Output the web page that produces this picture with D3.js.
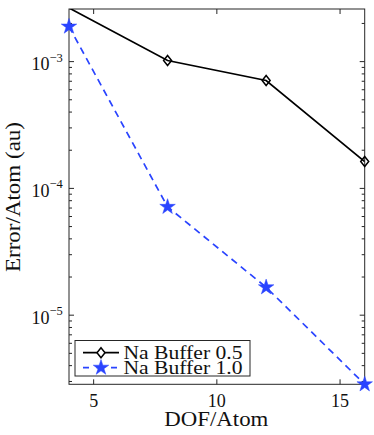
<!DOCTYPE html>
<html><head><meta charset="utf-8">
<script src="https://cdn.jsdelivr.net/npm/d3@7"></script>
<style>body{margin:0;background:#fff}svg{display:block}</style>
</head><body>
<svg id="chart" width="374" height="435"></svg>
<script>
const dofAtom = [4, 8, 12, 16];
const buffer05 = [2.65e-3, 1.02e-3, 7.1e-4, 1.63e-4];
const buffer10 = [1.89e-3, 7.15e-5, 1.66e-5, 2.85e-6];
const seriesNames = ["Na Buffer 0.5", "Na Buffer 1.0"];
const xTicks = [5, 10, 15];
const yMajor = [1e-3, 1e-4, 1e-5];
const yExps = ["−3", "−4", "−5"];
const xLabel = "DOF/Atom";
const yLabel = "Error/Atom (au)";

const W = 374, H = 435;
const L = 69, R = 364.7, T = 9, B = 384.3;
const font = "'Liberation Serif', 'Times New Roman', serif";
const svg = d3.select("#chart");
const x = d3.scaleLinear().domain([4, 16]).range([L, R]);
const y = d3.scaleLog().domain([2.85e-6, 2.6e-3]).range([B, T]);
const axisCol = "#262626";

const minor = [];
for (let e = -6; e <= -3; e++) for (let m = 2; m <= 9; m++) {
  const v = m * Math.pow(10, e);
  if (v >= y.domain()[0] && v <= y.domain()[1]) minor.push(v);
}
const g = svg.append("g");
minor.forEach(v => {
  g.append("line").attr("x1", L).attr("x2", L + 3).attr("y1", y(v)).attr("y2", y(v)).attr("stroke", axisCol);
  g.append("line").attr("x1", R).attr("x2", R - 3).attr("y1", y(v)).attr("y2", y(v)).attr("stroke", axisCol);
});
yMajor.forEach(v => {
  g.append("line").attr("x1", L).attr("x2", L + 5).attr("y1", y(v)).attr("y2", y(v)).attr("stroke", axisCol);
  g.append("line").attr("x1", R).attr("x2", R - 5).attr("y1", y(v)).attr("y2", y(v)).attr("stroke", axisCol);
});
xTicks.forEach(v => {
  g.append("line").attr("x1", x(v)).attr("x2", x(v)).attr("y1", B).attr("y2", B - 5).attr("stroke", axisCol);
  g.append("line").attr("x1", x(v)).attr("x2", x(v)).attr("y1", T).attr("y2", T + 5).attr("stroke", axisCol);
});
g.append("rect").attr("x", L).attr("y", T).attr("width", R - L).attr("height", B - T)
  .attr("fill", "none").attr("stroke", axisCol).attr("stroke-width", 1);

xTicks.forEach(v => {
  svg.append("text").attr("x", x(v)).attr("y", 406.5).attr("text-anchor", "middle")
    .attr("font-family", font).attr("font-size", 18).attr("fill", "#111").text(v);
});
yMajor.forEach((v, i) => {
  svg.append("text").attr("x", 49.5).attr("y", y(v) + 8.5).attr("text-anchor", "end")
    .attr("font-family", font).attr("font-size", 18).attr("fill", "#111").text("10");
  svg.append("text").attr("x", 49.5).attr("y", y(v)).attr("font-family", font)
    .attr("font-size", 12.5).attr("fill", "#111").text(yExps[i]);
});
svg.append("text").attr("x", (L + R) / 2 - 0.5).attr("y", 426).attr("text-anchor", "middle")
  .attr("font-family", font).attr("font-size", 20).attr("textLength", 104)
  .attr("lengthAdjust", "spacingAndGlyphs").attr("fill", "#111").text(xLabel);
svg.append("text").attr("transform", `translate(19.5,197) rotate(-90)`).attr("text-anchor", "middle")
  .attr("font-family", font).attr("font-size", 20).attr("textLength", 150)
  .attr("lengthAdjust", "spacingAndGlyphs").attr("fill", "#111").text(yLabel);

svg.append("clipPath").attr("id", "clip").append("rect")
  .attr("x", L).attr("y", T).attr("width", R - L).attr("height", B - T);

const line = d3.line().x(d => x(d[0])).y(d => y(d[1]));
const d1 = dofAtom.map((d, i) => [d, buffer05[i]]);
const d2 = dofAtom.map((d, i) => [d, buffer10[i]]);
const blue = "#2a44ff";

svg.append("path").datum(d1).attr("d", line).attr("clip-path", "url(#clip)")
  .attr("fill", "none").attr("stroke", "#000").attr("stroke-width", 1.7);
svg.append("path").datum(d2).attr("d", line).attr("clip-path", "url(#clip)")
  .attr("fill", "none").attr("stroke", blue).attr("stroke-width", 1.7).attr("stroke-dasharray", "7,5");

const inDom = d => d[1] <= y.domain()[1] && d[1] >= y.domain()[0] * 0.999;
const diamond = "M0,-5L4,0L0,5L-4,0Z";
const star = d3.symbol().type(d3.symbolStar).size(75)();
svg.selectAll(".dia").data(d1.filter(inDom)).enter().append("path")
  .attr("d", diamond).attr("transform", d => `translate(${x(d[0])},${y(d[1])})`)
  .attr("fill", "none").attr("stroke", "#000").attr("stroke-width", 1.5);
svg.selectAll(".star").data(d2.filter(inDom)).enter().append("path")
  .attr("d", star).attr("transform", d => `translate(${x(d[0])},${y(d[1])})`)
  .attr("fill", blue).attr("stroke", blue).attr("stroke-width", 0.5);

const lg = svg.append("g");
lg.append("rect").attr("x", 75).attr("y", 340.5).attr("width", 175).attr("height", 35.5)
  .attr("fill", "#fff").attr("stroke", axisCol).attr("stroke-width", 1);
const rows = [352.7, 367.7];
lg.append("line").attr("x1", 83).attr("x2", 119).attr("y1", rows[0]).attr("y2", rows[0])
  .attr("stroke", "#000").attr("stroke-width", 1.7);
lg.append("path").attr("d", diamond).attr("transform", `translate(101,${rows[0]})`)
  .attr("fill", "#fff").attr("stroke", "#000").attr("stroke-width", 1.5);
lg.append("line").attr("x1", 83).attr("x2", 119).attr("y1", rows[1]).attr("y2", rows[1])
  .attr("stroke", blue).attr("stroke-width", 1.7).attr("stroke-dasharray", "6,7.5,7,7.5,6");
lg.append("path").attr("d", star).attr("transform", `translate(101,${rows[1]})`)
  .attr("fill", blue).attr("stroke", blue).attr("stroke-width", 0.5);
seriesNames.forEach((n, i) => {
  lg.append("text").attr("x", 123.5).attr("y", rows[i] + 6).attr("font-family", font)
    .attr("font-size", 18.5).attr("textLength", 119).attr("lengthAdjust", "spacingAndGlyphs")
    .attr("fill", "#111").text(n);
});
</script>
</body></html>
